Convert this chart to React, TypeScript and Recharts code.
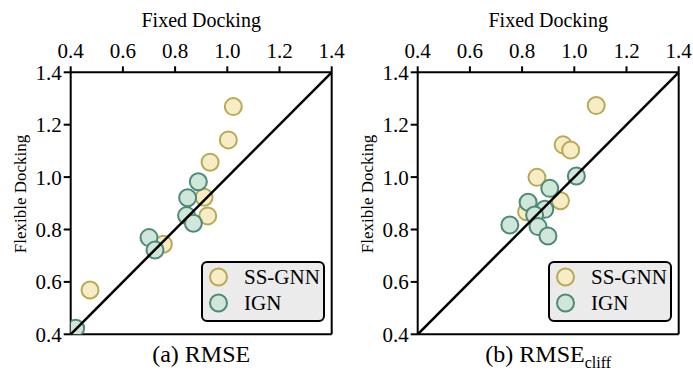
import React from 'react';
import { ScatterChart, Scatter, XAxis, YAxis, ReferenceLine, Legend, Label } from 'recharts';

const axisTicks = [0.4, 0.6, 0.8, 1.0, 1.2, 1.4];

// (a) RMSE
const rmseSsgnnFixed = [1.023, 1.004, 0.934, 0.911, 0.925, 0.755, 0.474];
const rmseSsgnnFlexible = [1.269, 1.142, 1.057, 0.923, 0.852, 0.744, 0.569];
const rmseIgnFixed = [0.889, 0.848, 0.844, 0.870, 0.700, 0.723, 0.419];
const rmseIgnFlexible = [0.982, 0.921, 0.853, 0.824, 0.769, 0.722, 0.423];

// (b) RMSE_cliff
const cliffSsgnnFixed = [1.084, 0.957, 0.986, 0.857, 0.947, 0.817];
const cliffSsgnnFlexible = [1.273, 1.123, 1.103, 0.999, 0.910, 0.868];
const cliffIgnFixed = [1.008, 0.906, 0.823, 0.887, 0.848, 0.861, 0.899, 0.753];
const cliffIgnFlexible = [1.004, 0.957, 0.904, 0.877, 0.855, 0.811, 0.775, 0.817];

const seriesNames = ['SS-GNN', 'IGN'];

const FONT = '"Liberation Serif", "Times New Roman", serif';
const Y_FILL = '#f8ecc6';
const Y_STROKE = '#b6aa55';
const G_FILL = '#cfe6d8';
const G_STROKE = '#4e8a79';

const toPoints = (xs: number[], ys: number[]) => xs.map((x, i) => ({ x, y: ys[i] }));

const makeShape = (fill: string, stroke: string) => (p: any) => (
  <circle cx={p.cx} cy={p.cy} r={8.5} fill={fill} stroke={stroke} strokeWidth={2} />
);

const LegendBox = () => (
  <svg width={124} height={62} style={{ display: 'block', overflow: 'visible' }}>
    <rect x={1} y={1} width={122} height={59} rx={5} ry={5} fill="#ebebeb" stroke="#000" strokeWidth={2} />
    <circle cx={17.5} cy={16} r={8.5} fill={Y_FILL} stroke={Y_STROKE} strokeWidth={2} />
    <text x={43} y={23} fontSize={21} fontFamily={FONT} fill="#000">{seriesNames[0]}</text>
    <circle cx={17.5} cy={42} r={8.5} fill={G_FILL} stroke={G_STROKE} strokeWidth={2} />
    <text x={43} y={49} fontSize={21} fontFamily={FONT} fill="#000">{seriesNames[1]}</text>
  </svg>
);

type PanelProps = {
  ssgnn: { x: number; y: number }[];
  ign: { x: number; y: number }[];
  title: string;
  sub?: string;
};

const Panel = ({ ssgnn, ign, title, sub }: PanelProps) => (
  <ScatterChart width={346} height={370} margin={{ top: 0, right: 14.3, bottom: 0, left: 0 }}>
    <XAxis
      xAxisId="top"
      orientation="top"
      type="number"
      dataKey="x"
      domain={[0.4, 1.4]}
      ticks={axisTicks}
      allowDataOverflow
      height={72.3}
      tickSize={6}
      tickMargin={8}
      tickFormatter={(v: number) => v.toFixed(1)}
      axisLine={{ stroke: '#000', strokeWidth: 2 }}
      tickLine={{ stroke: '#000', strokeWidth: 2 }}
      tick={{ fontSize: 21, fill: '#000', fontFamily: FONT }}
    >
      <Label
        content={(props: any) => {
          const vb = props.viewBox || { x: 70.7, width: 261 };
          return (
            <text x={vb.x + vb.width / 2} y={27} textAnchor="middle" fontSize={20} fontFamily={FONT} fill="#000">
              Fixed Docking
            </text>
          );
        }}
      />
    </XAxis>
    <XAxis
      xAxisId="bottom"
      orientation="bottom"
      type="number"
      dataKey="x"
      domain={[0.4, 1.4]}
      allowDataOverflow
      height={35.7}
      tick={false}
      tickLine={false}
      axisLine={{ stroke: '#000', strokeWidth: 2 }}
    >
      <Label
        content={(props: any) => {
          const vb = props.viewBox || { x: 70.7, width: 261 };
          return (
            <text x={vb.x + vb.width / 2} y={362} textAnchor="middle" fontSize={24} fontFamily={FONT} fill="#000">
              <tspan>{title}</tspan>
              {sub ? (
                <tspan fontSize={16} dy={6}>{sub}</tspan>
              ) : null}
            </text>
          );
        }}
      />
    </XAxis>
    <YAxis
      yAxisId="left"
      type="number"
      dataKey="y"
      domain={[0.4, 1.4]}
      ticks={axisTicks}
      allowDataOverflow
      width={70.7}
      tickSize={7}
      tickMargin={2}
      tickFormatter={(v: number) => v.toFixed(1)}
      axisLine={{ stroke: '#000', strokeWidth: 2 }}
      tickLine={{ stroke: '#000', strokeWidth: 2 }}
      tick={{ fontSize: 21, fill: '#000', fontFamily: FONT }}
    >
      <Label
        content={() => (
          <text
            x={26}
            y={194}
            transform="rotate(-90, 26, 194)"
            textAnchor="middle"
            fontSize={17}
            fontFamily={FONT}
            fill="#000"
          >
            Flexible Docking
          </text>
        )}
      />
    </YAxis>
    <Scatter
      name={seriesNames[0]}
      data={ssgnn}
      xAxisId="top"
      yAxisId="left"
      isAnimationActive={false}
      shape={makeShape(Y_FILL, Y_STROKE)}
    />
    <Scatter
      name={seriesNames[1]}
      data={ign}
      xAxisId="top"
      yAxisId="left"
      isAnimationActive={false}
      shape={makeShape(G_FILL, G_STROKE)}
    />
    <ReferenceLine
      xAxisId="top"
      yAxisId="left"
      x={1.4}
      stroke="#000"
      strokeWidth={2}
    />
    <ReferenceLine
      xAxisId="top"
      yAxisId="left"
      segment={[{ x: 0.4, y: 0.4 }, { x: 1.4, y: 1.4 }]}
      stroke="#000"
      strokeWidth={2.5}
      ifOverflow="visible"
      {...({ zIndex: 700 } as any)}
    />
    <Legend
      layout="vertical"
      align="center"
      verticalAlign="middle"
      width={124}
      height={62}
      wrapperStyle={{ left: 201, top: 260.5, width: 124, height: 62 }}
      content={() => <LegendBox />}
    />
  </ScatterChart>
);

export default function App() {
  return (
    <div style={{ position: 'absolute', left: 0, top: 0, width: 693, height: 370, background: '#fff' }}>
      <div style={{ position: 'absolute', left: 0, top: 0 }}>
        <Panel ssgnn={toPoints(rmseSsgnnFixed, rmseSsgnnFlexible)} ign={toPoints(rmseIgnFixed, rmseIgnFlexible)} title="(a) RMSE" />
      </div>
      <div style={{ position: 'absolute', left: 347, top: 0 }}>
        <Panel
          ssgnn={toPoints(cliffSsgnnFixed, cliffSsgnnFlexible)}
          ign={toPoints(cliffIgnFixed, cliffIgnFlexible)}
          title="(b) RMSE"
          sub="cliff"
        />
      </div>
    </div>
  );
}
